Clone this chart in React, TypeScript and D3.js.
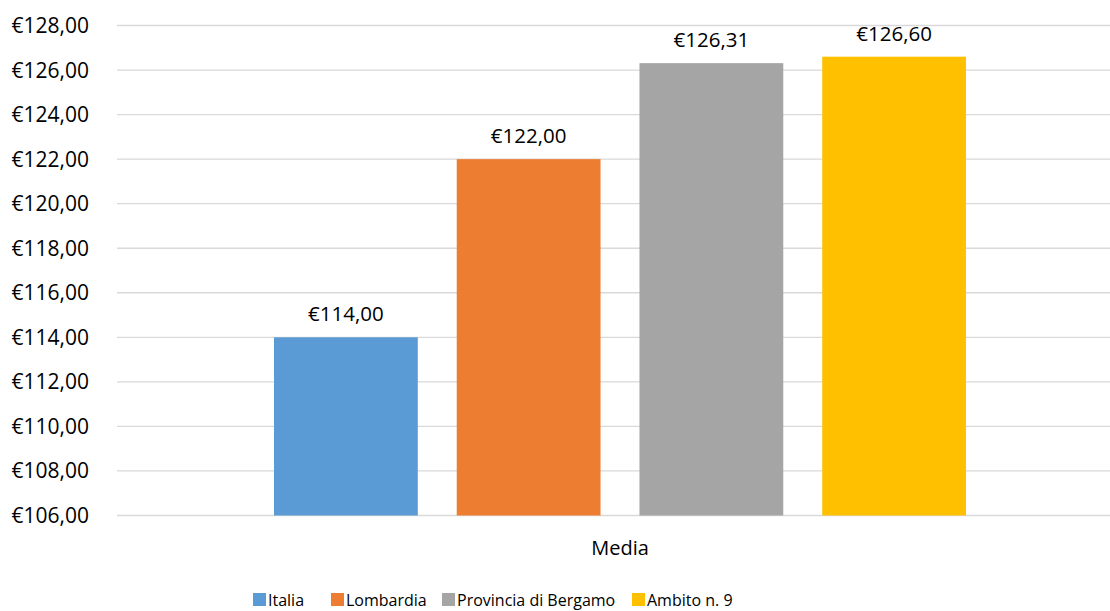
import React from "react";
import * as d3 from "d3";

const categories = ["Media"];
const seriesNames = ["Italia", "Lombardia", "Provincia di Bergamo", "Ambito n. 9"];
const seriesValues = [114.0, 122.0, 126.31, 126.6];
const yTicks = [106, 108, 110, 112, 114, 116, 118, 120, 122, 124, 126, 128];
const colors = ["#5B9BD5", "#ED7D31", "#A5A5A5", "#FFC000"];

const W = 1110;
const H = 611;
const FONT = "'Open Sans', 'Liberation Sans', sans-serif";
const legendX = [253, 331, 442, 632];

const fmt = (v: number) => "€" + v.toFixed(2).replace(".", ",");

export default function App() {
  const y = d3.scaleLinear().domain([106, 128]).range([515.5, 25.5]);
  const x0 = d3.scaleBand<string>().domain(categories).range([117, 1123]);
  const bw = x0.bandwidth();
  const x1 = d3
    .scaleBand<string>()
    .domain(seriesNames)
    .range([157, bw - 157])
    .paddingInner(39 / 183)
    .paddingOuter(0);

  return (
    <svg
      width={W}
      height={H}
      style={{ position: "absolute", left: 0, top: 0, background: "#fff" }}
      fontFamily={FONT}
    >
      <rect x={0} y={0} width={W} height={H} fill="#fff" />
      {yTicks.map((t) => (
        <g key={t}>
          <line x1={117} x2={W} y1={y(t)} y2={y(t)} stroke="#d9d9d9" strokeWidth={1.3} />
          <text x={89} y={y(t) + 7.5} textAnchor="end" fontSize={21} fill="#000">
            {fmt(t)}
          </text>
        </g>
      ))}
      {categories.map((c) => (
        <g key={c} transform={`translate(${x0(c)},0)`}>
          {seriesNames.map((s, i) => {
            const v = seriesValues[i];
            const bx = x1(s)!;
            return (
              <g key={s}>
                <rect
                  x={bx}
                  y={y(v)}
                  width={x1.bandwidth()}
                  height={y(106) - y(v)}
                  fill={colors[i]}
                />
                <text
                  x={bx + x1.bandwidth() / 2}
                  y={y(v) - 16}
                  textAnchor="middle"
                  fontSize={20.5}
                  fill="#000"
                >
                  {fmt(v)}
                </text>
              </g>
            );
          })}
          <text x={bw / 2} y={555} textAnchor="middle" fontSize={20} fill="#000">
            {c}
          </text>
        </g>
      ))}
      {seriesNames.map((s, i) => (
        <g key={s} transform={`translate(${legendX[i]},0)`}>
          <rect x={0} y={593} width={13} height={13} fill={colors[i]} />
          <text x={15} y={606} fontSize={16} fill="#000">
            {s}
          </text>
        </g>
      ))}
    </svg>
  );
}
